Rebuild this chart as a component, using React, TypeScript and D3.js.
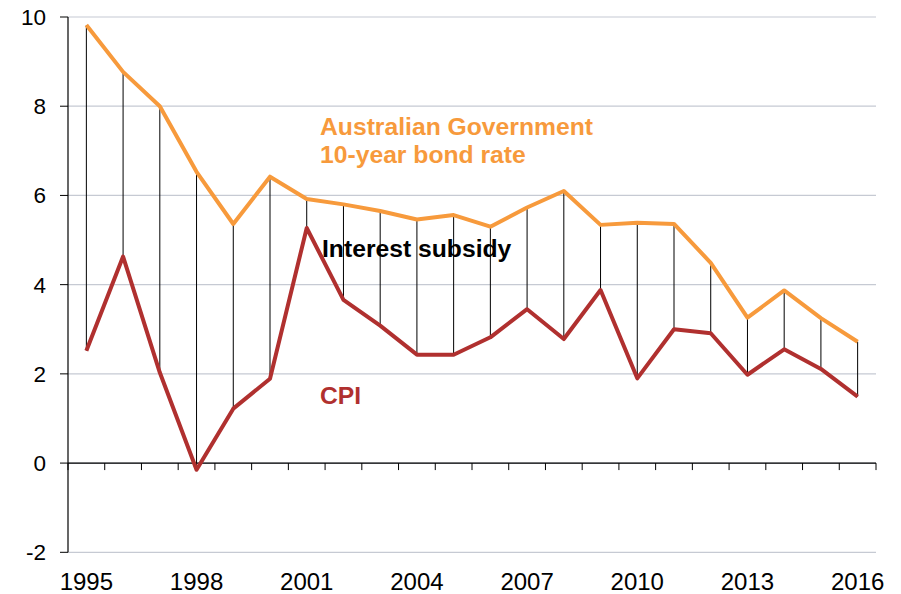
import React from 'react';
import * as d3 from 'd3';

const years = d3.range(1995, 2017).map(String);
const bondRate = [9.82, 8.77, 8.0, 6.53, 5.36, 6.42, 5.92, 5.8, 5.65, 5.46, 5.56, 5.3, 5.73, 6.1, 5.34, 5.39, 5.36, 4.49, 3.26, 3.87, 3.25, 2.72];
const cpi = [2.52, 4.63, 2.03, -0.15, 1.22, 1.89, 5.27, 3.66, 3.08, 2.43, 2.43, 2.82, 3.45, 2.78, 3.88, 1.9, 3.0, 2.91, 1.98, 2.55, 2.11, 1.49];
const yTicks = [-2, 0, 2, 4, 6, 8, 10];
const xLabels = ['1995', '1998', '2001', '2004', '2007', '2010', '2013', '2016'];

const ORANGE = '#f79a3c';
const RED = '#b0302f';
const FONT = 'Liberation Sans, Arial, sans-serif';

const App = () => {
  const width = 901;
  const height = 594;
  const left = 68;
  const right = 876;
  const top = 17;
  const bottom = 552.3;

  const x = d3.scaleBand<string>().domain(years).range([left, right]).padding(0);
  const y = d3.scaleLinear().domain([-2, 10]).range([bottom, top]);
  const cx = (i: number) => (x(years[i]) as number) + x.bandwidth() / 2;

  const line = d3
    .line<number>()
    .x((d, i) => cx(i))
    .y(d => y(d));

  // boundaries of each category for the small x-axis ticks
  const boundaries = years.map(yr => x(yr) as number).concat([right]);

  return (
    <svg
      width={width}
      height={height}
      style={{ position: 'absolute', left: 0, top: 0, background: '#fff' }}
      fontFamily={FONT}
    >
      {/* gridlines */}
      {yTicks.map(t => (
        <line key={'g' + t} x1={left} x2={right} y1={y(t)} y2={y(t)} stroke="#c6cad3" strokeWidth={1.2} />
      ))}

      {/* drop lines: interest subsidy */}
      {years.map((yr, i) => (
        <line key={'d' + yr} x1={cx(i)} x2={cx(i)} y1={y(bondRate[i])} y2={y(cpi[i])} stroke="#000" strokeWidth={1} />
      ))}

      {/* x axis at zero */}
      <line x1={left} x2={right} y1={y(0)} y2={y(0)} stroke="#000" strokeWidth={1.2} />
      {boundaries.map((b, i) => (
        <line key={'xt' + i} x1={b} x2={b} y1={y(0)} y2={y(0) + 7} stroke="#000" strokeWidth={1} />
      ))}

      {/* y axis */}
      <line x1={left} x2={left} y1={top} y2={bottom} stroke="#000" strokeWidth={1.2} />
      {yTicks.map(t => (
        <g key={'yt' + t}>
          <line x1={left - 8} x2={left} y1={y(t)} y2={y(t)} stroke="#000" strokeWidth={1} />
          <text x={46} y={y(t) + 8} textAnchor="end" fontSize={22.5} fill="#000">
            {t}
          </text>
        </g>
      ))}

      {/* series */}
      <path d={line(bondRate) as string} fill="none" stroke={ORANGE} strokeWidth={4} strokeLinejoin="round" />
      <path d={line(cpi) as string} fill="none" stroke={RED} strokeWidth={4} strokeLinejoin="round" />

      {/* x labels */}
      {xLabels.map(l => (
        <text key={'xl' + l} x={(x(l) as number) + x.bandwidth() / 2} y={590} textAnchor="middle" fontSize={24} fill="#000">
          {l}
        </text>
      ))}

      {/* annotations */}
      <text x={320} y={135} fontSize={24.7} fontWeight="bold" fill={ORANGE}>
        Australian Government
      </text>
      <text x={320} y={163} fontSize={24.7} fontWeight="bold" fill={ORANGE}>
        10-year bond rate
      </text>
      <text x={322} y={257} fontSize={24.7} fontWeight="bold" fill="#000">
        Interest subsidy
      </text>
      <text x={320} y={404} fontSize={24.7} fontWeight="bold" fill={RED}>
        CPI
      </text>
    </svg>
  );
};

export default App;
